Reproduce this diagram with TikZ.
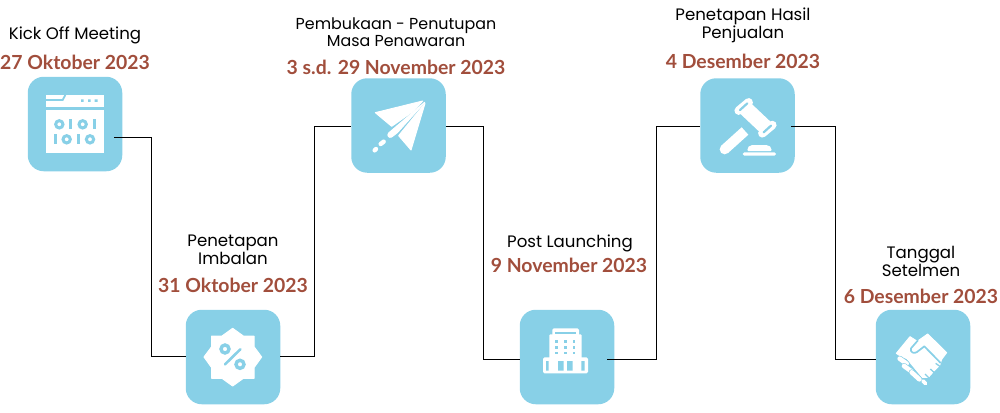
\documentclass[tikz,border=0pt]{standalone}
\usepackage{fontspec}
\setmainfont{Poppins}
\newfontfamily\datefont{Lato}[BoldFont={Lato Bold}]
\usetikzlibrary{calc}
\definecolor{boxblue}{HTML}{88D0E7}
\definecolor{datered}{HTML}{A14E3C}
\tikzset{
  x=1pt,y=-1pt,
  iconbox/.style={draw=none,fill=boxblue,rounded corners=16pt,minimum width=94.5pt,minimum height=94.5pt,inner sep=0pt,outer sep=0pt},
  conn/.style={draw=black,line width=1pt},
  label/.style={align=center,inner sep=0pt,font=\fontsize{16.6}{18}\selectfont,text=black},
  widelabel/.style={label,font=\fontsize{15.9}{17.6}\selectfont},
  datelabel/.style={inner sep=0pt,font=\datefont\bfseries\fontsize{19.4}{22}\selectfont,text=datered},
  inkround/.style={fill=white,draw=white,line width=1pt,line join=round},
  zoomed/.style={shift={#1},scale=1/3},
}
\newcommand{\fingerbar}[3]{%
  \draw[boxblue,line width=#3+1.3pt,line cap=round] #1 -- #2;
  \draw[white,line width=#3,line cap=round] #1 -- #2;}
\begin{document}
\begin{tikzpicture}
\useasboundingbox (0,0) rectangle (1000,412);
\node[iconbox] (b1) at (75,124) {};
\node[iconbox] (b2) at (233,357) {};
\node[iconbox] (b3) at (398.5,125.5) {};
\node[iconbox] (b4) at (567,357) {};
\node[iconbox] (b5) at (747.5,125.5) {};
\node[iconbox] (b6) at (923,357) {};
% text
\node[label] (t1) at (75,35.5) {Kick Off Meeting};
\node[datelabel] (d1) at (75,62) {27 Oktober 2023};
\node[label] (t2) at (233,249.5) {Penetapan\\Imbalan};
\node[datelabel] (d2) at (233,285) {31 Oktober 2023};
\node[widelabel] (t3) at (396,32) {Pembukaan - Penutupan\\Masa Penawaran};
\node[datelabel] (d3) at (396,67) {3 s.d. 29 November 2023};
\node[label] (t4) at (570,243) {Post Launching};
\node[datelabel] (d4) at (569,265) {9 November 2023};
\node[label] (t5) at (743,25.5) {Penetapan Hasil\\Penjualan};
\node[datelabel] (d5) at (743,61) {4 Desember 2023};
\node[label] (t6) at (921,261.5) {Tanggal\\Setelmen};
\node[datelabel] (d6) at (921,296) {6 Desember 2023};
% connector ports and bends
\coordinate (p1) at (114,137);
\coordinate (k1) at (151.5,356);
\coordinate (k2) at (314,126);
\coordinate (k3) at (483,359);
\coordinate (p4) at (607,359);
\coordinate (k4) at (656,126);
\coordinate (p5) at (791,126);
\coordinate (k5) at (835,359);
\draw[conn] (p1) -| (k1) -- (b2.west |- k1);
\draw[conn] (b2.east |- k1) -| (k2) -- (b3.west |- k2);
\draw[conn] (b3.east |- k2) -| (k3) -- (b4.west |- k3);
\draw[conn] (p4) -| (k4) -- (b5.west |- k4);
\draw[conn] (p5) -| (k5) -- (b6.west |- k5);
% icon 1: binary window
\begin{scope}[zoomed={(0,0)}]
\fill[white] (138,285) rectangle (312,458);
\fill[boxblue] (138,320) rectangle (312,330);
\draw[boxblue,line width=1.8pt] (138,300) -- (188,300) -- (196,285);
\fill[boxblue] (243,298) rectangle (251,306) (264,298) rectangle (272,306) (284,298) rectangle (293,306);
\begin{scope}[boxblue,line width=3pt]
\draw (178,373) circle (11);
\draw (248,373) circle (11);
\draw (270,418) circle (11);
\draw (200,418) circle (11);
\draw (212,358) -- (212,388);
\draw (284,358) -- (284,388);
\draw (166,403) -- (166,433);
\draw (235,403) -- (235,433);
\end{scope}
\end{scope}
% icon 2: percent badge
\begin{scope}[zoomed={(175,300)}]
\fill[inkround] (173,85) -- (205,108) -- (237,108) -- (237,140) -- (260,171) -- (237,203) -- (237,235) -- (205,235) -- (173,258) -- (141,235) -- (110,235) -- (110,203) -- (87,171) -- (110,140) -- (110,108) -- (141,108) -- cycle;
\draw[boxblue,line width=3.4pt] (150,147) circle (12) (195,193) circle (12);
\draw[boxblue,line width=2.6pt,line cap=round] (196,148) -- (150,193);
\end{scope}
% icon 3: paper plane
\begin{scope}[zoomed={(340,70)}]
\fill[inkround] (248,93) -- (106,128) -- (155,169) -- (222,122) -- cycle;
\fill[inkround] (254,97) -- (146,189) .. controls (140,197) and (147,205) .. (155,201) -- (172,188) -- cycle;
\fill[inkround] (255,100) -- (176,197) -- (213,240) -- cycle;
\draw[white,line width=4.4pt,line cap=round] (122,222) -- (131,215);
\draw[white,line width=4.4pt,line cap=round] (104,241) -- (108,237);
\end{scope}
% icon 4: building
\begin{scope}[zoomed={(510,300)}]
\fill[white,rounded corners=1.5pt] (127,85) rectangle (207,110);
\fill[white,rounded corners=1pt] (118,103) rectangle (215,178);
\fill[white,rounded corners=1.5pt] (99,172) rectangle (234,220);
\fill[boxblue] (135,95) rectangle (199,102);
\foreach \wx in {139,166,192} \foreach \wy in {125,142,159}
  \fill[boxblue] (\wx-4,\wy-4) rectangle (\wx+4,\wy+4);
\fill[boxblue] (108,183) rectangle (116,212) (144,183) rectangle (161,212) (171,183) rectangle (188,212) (214,183) rectangle (224,212);
\end{scope}
% icon 5: gavel
\begin{scope}[zoomed={(690,70)}]
\draw[white,line width=15pt] (161,110) -- (232,177);
\draw[white,line width=8.5pt,line cap=round] (146,122) -- (176,97);
\draw[boxblue,line width=2.2pt,line cap=round] (150,120) -- (172,100);
\draw[white,line width=8.5pt,line cap=round] (217,190) -- (247,165);
\draw[boxblue,line width=2.2pt,line cap=round] (221,187) -- (243,167);
\draw[white,line width=10pt] (104,238) -- (165,183);
\fill[white] (104,238) circle (15);
\fill[white,rounded corners=1pt] (172,243) .. controls (172,232) and (178,225) .. (190,225) -- (226,225) .. controls (238,225) and (245,232) .. (245,243) -- cycle;
\fill[white,rounded corners=1.5pt] (158,247) rectangle (258,257);
\end{scope}
% icon 6: handshake
\begin{scope}[zoomed={(865,300)}]
\fill[inkround] (94,160) -- (135,110) -- (157,124) -- (188,102) -- (245,158) -- (230,178) -- (224,196) -- (206,214) -- (190,232) -- (172,232) -- (125,175) -- (112,172) -- cycle;
\draw[boxblue,line width=1.7pt,line cap=round,line join=round] (158,122) -- (138,145) .. controls (134,158) and (148,162) .. (156,156) -- (178,139) -- (226,188);
\fingerbar{(104,176)}{(125,191)}{4.6pt}
\fingerbar{(117,198)}{(142,216)}{4.6pt}
\fingerbar{(140,217)}{(163,238)}{4.6pt}
\draw[white,line width=3.6pt,line cap=round] (174,243) -- (182,251);
\draw[boxblue,line width=1.3pt] (226,200) -- (212,190) (208,218) -- (196,207) (192,234) -- (180,222);
\end{scope}
\end{tikzpicture}
\end{document}
